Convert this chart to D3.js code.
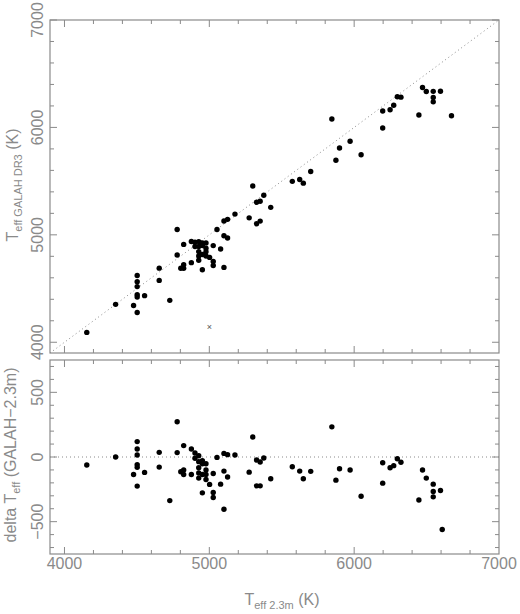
<!DOCTYPE html>
<html><head><meta charset="utf-8">
<script src="https://cdn.jsdelivr.net/npm/d3@7"></script>
<style>body{margin:0;background:#fff}</style></head>
<body><svg id="c" width="520" height="614"></svg>
<script>
const teff23 = [4154,4353,4477,4502,4502,4502,4502,4502,4502,4553,4654,4654,4727,4778,4778,4803,4823,4823,4823,4876,4876,4901,4901,4927,4927,4927,4927,4927,4952,4952,4952,4952,4977,4977,4977,4977,5002,5027,5027,5027,5053,5078,5101,5101,5101,5126,5126,5177,5275,5300,5326,5326,5351,5351,5376,5424,5573,5624,5649,5700,5846,5874,5899,5972,6048,6197,6197,6248,6273,6298,6323,6447,6472,6498,6546,6546,6546,6596,6672];
const teffGalah = [4092,4353,4342,4621,4564,4518,4442,4422,4277,4434,4690,4576,4390,5050,4812,4689,4911,4722,4688,4938,4741,4932,4891,4937,4891,4844,4803,4764,4924,4900,4817,4675,4925,4876,4842,4803,4790,4900,4752,4714,5050,4868,5129,4992,4697,5144,4971,5193,5158,5455,5303,5103,5312,5128,5368,5256,5498,5515,5481,5589,6079,5695,5808,5871,5745,6153,5995,6165,6206,6285,6282,6115,6371,6335,6336,6279,6238,6337,6108];
const deltaX = [4154,4353,4477,4502,4502,4502,4502,4502,4502,4553,4654,4654,4727,4778,4778,4803,4823,4823,4823,4876,4876,4901,4901,4927,4927,4927,4927,4927,4952,4952,4952,4952,4977,4977,4977,4977,5002,5027,5027,5027,5053,5078,5101,5101,5101,5126,5126,5177,5275,5300,5326,5326,5351,5351,5376,5424,5573,5624,5649,5700,5846,5874,5899,5972,6048,6197,6197,6248,6273,6298,6323,6447,6472,6498,6546,6546,6546,6596,6608];
const deltaT = [-62,0,-135,119,62,16,-60,-80,-225,-119,36,-78,-337,272,34,-114,88,-101,-135,62,-135,31,-10,10,-36,-83,-124,-163,-28,-52,-135,-277,-52,-101,-135,-174,-212,-127,-275,-313,-3,-210,28,-109,-404,18,-155,16,-117,155,-23,-223,-39,-223,-8,-168,-75,-109,-168,-111,233,-179,-91,-101,-303,-44,-202,-83,-67,-13,-41,-332,-101,-163,-210,-267,-308,-259,-560];
const outlier = [[5000,4145]];
const xTicks = [4000,5000,6000,7000];
const yTopTicks = [4000,5000,6000,7000];
const yBotTicks = [-500,0,500];

const svg = d3.select("#c");
const grey = "#8a8a8a", font = "Liberation Sans, sans-serif";
const L = 50, R = 499;
const x = d3.scaleLinear().domain([3900,7000]).range([L,R]);
const yT = d3.scaleLinear().domain([3900,7000]).range([353,20]);
const yB = d3.scaleLinear().domain([-750,750]).range([554,360]);

function frame(y, minorY, majorY) {
  const [b,t] = y.range();
  svg.append("rect").attr("x",L).attr("y",t).attr("width",R-L).attr("height",b-t)
    .attr("fill","none").attr("stroke",grey).attr("stroke-width",1.2);
  const g = svg.append("g").attr("stroke",grey).attr("stroke-width",1);
  d3.range(4000,7000,200).forEach(v=>{
    const len = v%1000===0?7:4, px=x(v);
    g.append("line").attr("x1",px).attr("x2",px).attr("y1",b).attr("y2",b-len);
    g.append("line").attr("x1",px).attr("x2",px).attr("y1",t).attr("y2",t+len);
  });
  minorY.forEach(v=>{
    const len = majorY.includes(v)?7:4, py=y(v);
    g.append("line").attr("x1",L).attr("x2",L+len).attr("y1",py).attr("y2",py);
    g.append("line").attr("x1",R).attr("x2",R-len).attr("y1",py).attr("y2",py);
  });
  majorY.forEach(v=>{
    svg.append("text").attr("transform",`translate(43,${y(v)}) rotate(-90)`)
      .attr("text-anchor","middle").attr("font-family",font).attr("font-size",16)
      .attr("fill",grey).text(v<0?"\u2212"+(-v):v);
  });
}
frame(yT, d3.range(4000,7001,200), yTopTicks);
frame(yB, d3.range(-700,701,100), yBotTicks);

svg.append("line").attr("x1",x(3900)).attr("y1",yT(3900)).attr("x2",x(7000)).attr("y2",yT(7000))
  .attr("stroke",grey).attr("stroke-dasharray","1,3");
svg.append("line").attr("x1",L).attr("x2",R).attr("y1",yB(0)).attr("y2",yB(0))
  .attr("stroke",grey).attr("stroke-dasharray","1,3");

svg.append("g").selectAll("circle").data(teff23).join("circle")
  .attr("cx",d=>x(d)).attr("cy",(d,i)=>yT(teffGalah[i])).attr("r",2.7).attr("fill","#000");
svg.append("g").selectAll("circle").data(deltaX).join("circle")
  .attr("cx",d=>x(d)).attr("cy",(d,i)=>yB(deltaT[i])).attr("r",2.7).attr("fill","#000");
outlier.forEach(([a,b])=>{
  svg.append("text").attr("x",x(a)).attr("y",yT(b)+3).attr("text-anchor","middle")
    .attr("font-family",font).attr("font-size",9).attr("fill","#555").text("×");
});

xTicks.forEach(v=>{
  svg.append("text").attr("x",x(v)).attr("y",569).attr("text-anchor","middle")
    .attr("font-family",font).attr("font-size",16).attr("fill",grey).text(v);
});

const xl = svg.append("text").attr("x",282).attr("y",605).attr("text-anchor","middle")
  .attr("font-family",font).attr("font-size",16).attr("fill",grey);
xl.append("tspan").text("T");
xl.append("tspan").attr("font-size",11).attr("dy",4).text("eff 2.3m");
xl.append("tspan").attr("dy",-4).text(" (K)");

const yl = svg.append("text").attr("transform","translate(18,185) rotate(-90)").attr("text-anchor","middle")
  .attr("font-family",font).attr("font-size",16).attr("fill",grey);
yl.append("tspan").text("T");
yl.append("tspan").attr("font-size",11).attr("dy",4).text("eff GALAH DR3");
yl.append("tspan").attr("dy",-4).text(" (K)");

const bl = svg.append("text").attr("transform","translate(16,455) rotate(-90)").attr("text-anchor","middle")
  .attr("font-family",font).attr("font-size",16).attr("fill",grey);
bl.append("tspan").text("delta T");
bl.append("tspan").attr("font-size",11).attr("dy",4).text("eff");
bl.append("tspan").attr("dy",-4).text(" (GALAH\u22122.3m)");
</script></body></html>
